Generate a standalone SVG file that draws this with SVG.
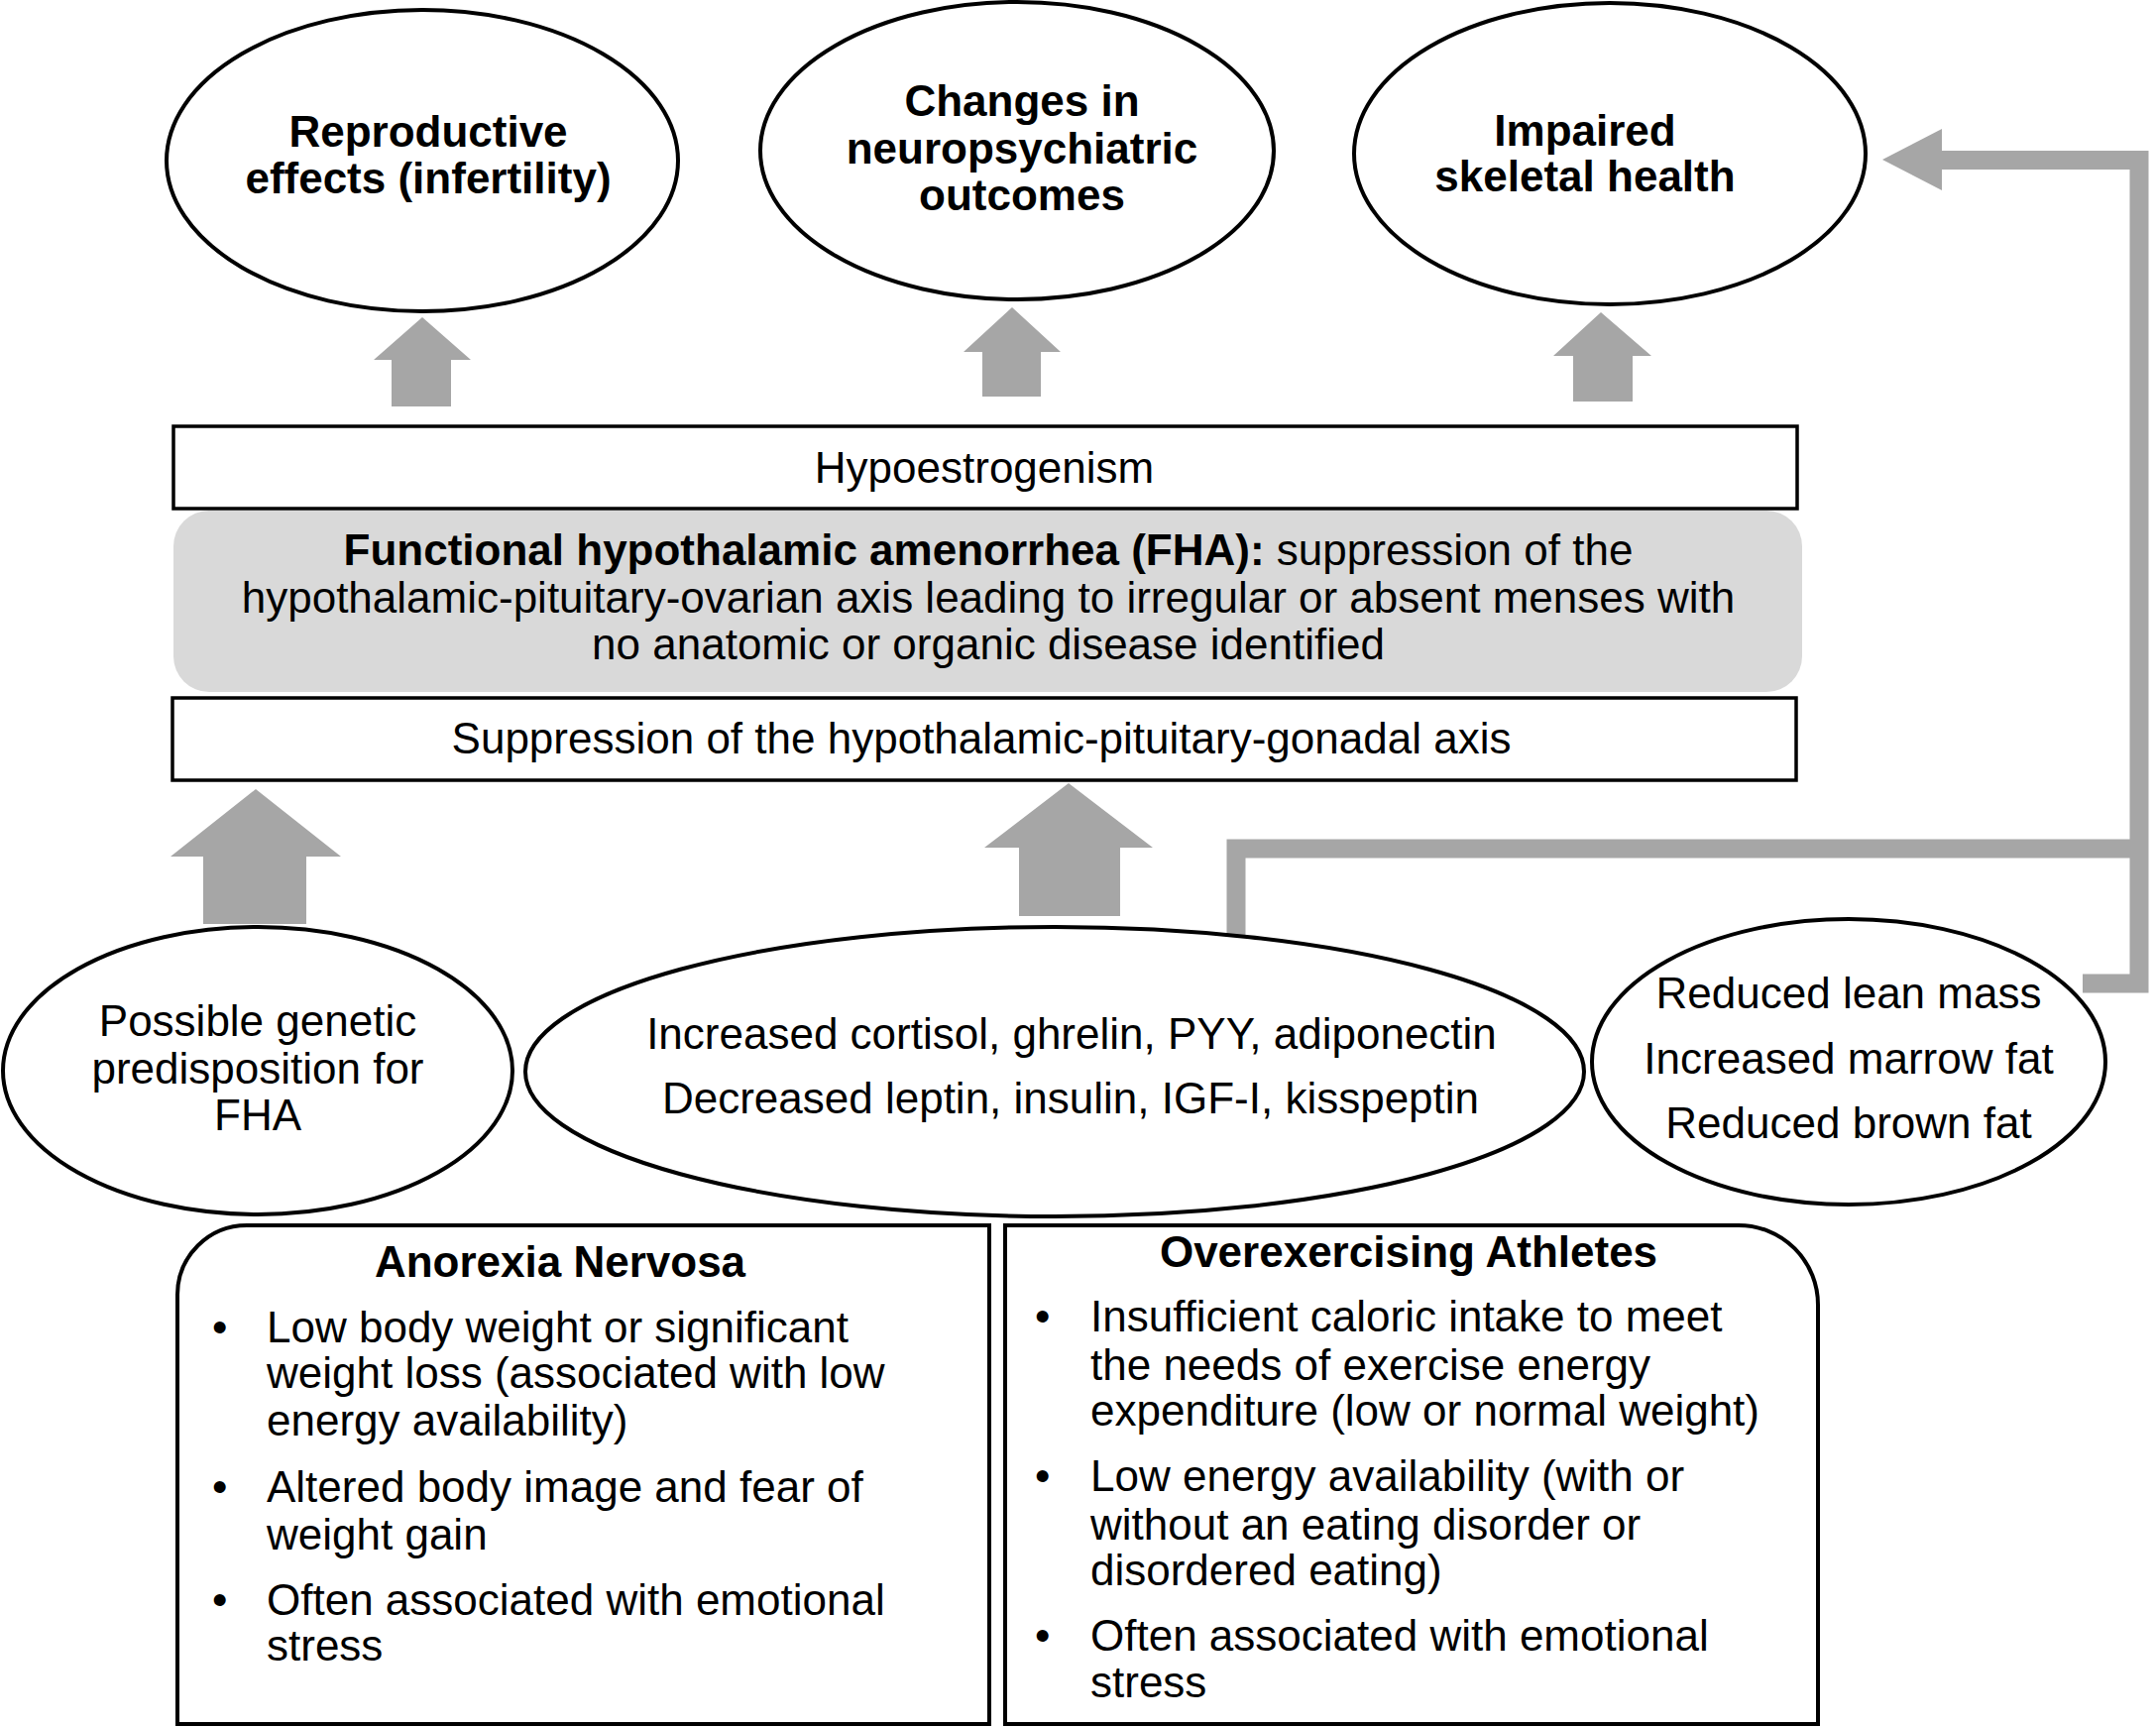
<svg xmlns="http://www.w3.org/2000/svg" width="2175" height="1742" viewBox="0 0 2175 1742">
<style>
.t{font-family:"Liberation Sans",Arial,sans-serif;font-size:44px;fill:#000}
.b{font-weight:bold}
.m{text-anchor:middle}
.node{fill:#fff;stroke:#000;stroke-width:4}
.bar{fill:#fff;stroke:#000;stroke-width:3.5}
.arr{fill:#a6a6a6;stroke:none}
.conn{fill:none;stroke:#a6a6a6;stroke-width:19;stroke-linejoin:miter}
</style>
<rect width="2175" height="1742" fill="#fff"/>
<g id="connectors">
<polygon class="arr" points="426,320 475,363 455,363 455,410 395,410 395,363 377,363"/>
<polygon class="arr" points="1021,310 1070,355 1050,355 1050,400 991,400 991,355 972,355"/>
<polygon class="arr" points="1615,315 1666,359 1647,359 1647,405 1587,405 1587,359 1567,359"/>
<polygon class="arr" points="258,796 344,864 309,864 309,932 205,932 205,864 172,864"/>
<polygon class="arr" points="1078,790 1163,855 1130,855 1130,924 1028,924 1028,855 993,855"/>
<path class="conn" d="M1247,943 V856 H2160"/>
<path class="conn" d="M2101,992 H2158 V161.5 H1955"/>
<polygon class="arr" points="1899,161 1959,130 1959,192"/>
</g>
<g id="reproductive">
<ellipse class="node" cx="426" cy="162" rx="258" ry="152"/>
<text class="t b m" x="432" y="148">Reproductive</text>
<text class="t b m" x="432" y="195">effects (infertility)</text>
</g>
<g id="neuro">
<ellipse class="node" cx="1026" cy="152" rx="259" ry="150"/>
<text class="t b m" x="1031" y="117">Changes in</text>
<text class="t b m" x="1031" y="165">neuropsychiatric</text>
<text class="t b m" x="1031" y="212">outcomes</text>
</g>
<g id="skeletal">
<ellipse class="node" cx="1624" cy="155" rx="258" ry="152"/>
<text class="t b m" x="1599" y="147">Impaired</text>
<text class="t b m" x="1599" y="193">skeletal health</text>
</g>
<g id="hypoestrogenism">
<rect class="bar" x="175" y="430" width="1638" height="83"/>
<text class="t m" x="993" y="487">Hypoestrogenism</text>
</g>
<g id="fha">
<rect x="175" y="515" width="1643" height="183" rx="36" ry="36" fill="#d9d9d9"/>
<text class="t m" x="997" y="570"><tspan class="b">Functional hypothalamic amenorrhea (FHA):</tspan> suppression of the</text>
<text class="t m" x="997" y="618">hypothalamic-pituitary-ovarian axis leading to irregular or absent menses with</text>
<text class="t m" x="997" y="665">no anatomic or organic disease identified</text>
</g>
<g id="suppression">
<rect class="bar" x="174" y="704" width="1638" height="83"/>
<text class="t m" x="990" y="760">Suppression of the hypothalamic-pituitary-gonadal axis</text>
</g>
<g id="genetic">
<ellipse class="node" cx="260" cy="1080" rx="257" ry="145"/>
<text class="t m" x="260" y="1045">Possible genetic</text>
<text class="t m" x="260" y="1093">predisposition for</text>
<text class="t m" x="260" y="1140">FHA</text>
</g>
<g id="hormones">
<ellipse class="node" cx="1064" cy="1081" rx="534" ry="146"/>
<text class="t m" x="1081" y="1058">Increased cortisol, ghrelin, PYY, adiponectin</text>
<text class="t m" x="1080" y="1123">Decreased leptin, insulin, IGF-I, kisspeptin</text>
</g>
<g id="body">
<ellipse class="node" cx="1865" cy="1071" rx="259" ry="144"/>
<text class="t m" x="1865" y="1017">Reduced lean mass</text>
<text class="t m" x="1865" y="1083">Increased marrow fat</text>
<text class="t m" x="1865" y="1148">Reduced brown fat</text>
</g>
<g id="anorexia">
<path class="node" d="M179,1739 V1306 A70,70 0 0 1 249,1236 H998 V1739 Z"/>
<text class="t b m" x="565" y="1288">Anorexia Nervosa</text>
<text class="t" x="214" y="1354">•</text>
<text class="t" x="269" y="1354">Low body weight or significant</text>
<text class="t" x="269" y="1400">weight loss (associated with low</text>
<text class="t" x="269" y="1448">energy availability)</text>
<text class="t" x="214" y="1515">•</text>
<text class="t" x="269" y="1515">Altered body image and fear of</text>
<text class="t" x="269" y="1563">weight gain</text>
<text class="t" x="214" y="1629">•</text>
<text class="t" x="269" y="1629">Often associated with emotional</text>
<text class="t" x="269" y="1675">stress</text>
</g>
<g id="athletes">
<path class="node" d="M1014,1739 V1236 H1754 A80,80 0 0 1 1834,1316 V1739 Z"/>
<text class="t b m" x="1421" y="1278">Overexercising Athletes</text>
<text class="t" x="1044" y="1343">•</text>
<text class="t" x="1100" y="1343">Insufficient caloric intake to meet</text>
<text class="t" x="1100" y="1392">the needs of exercise energy</text>
<text class="t" x="1100" y="1438">expenditure (low or normal weight)</text>
<text class="t" x="1044" y="1504">•</text>
<text class="t" x="1100" y="1504">Low energy availability (with or</text>
<text class="t" x="1100" y="1553">without an eating disorder or</text>
<text class="t" x="1100" y="1599">disordered eating)</text>
<text class="t" x="1044" y="1665">•</text>
<text class="t" x="1100" y="1665">Often associated with emotional</text>
<text class="t" x="1100" y="1712">stress</text>
</g>
</svg>
